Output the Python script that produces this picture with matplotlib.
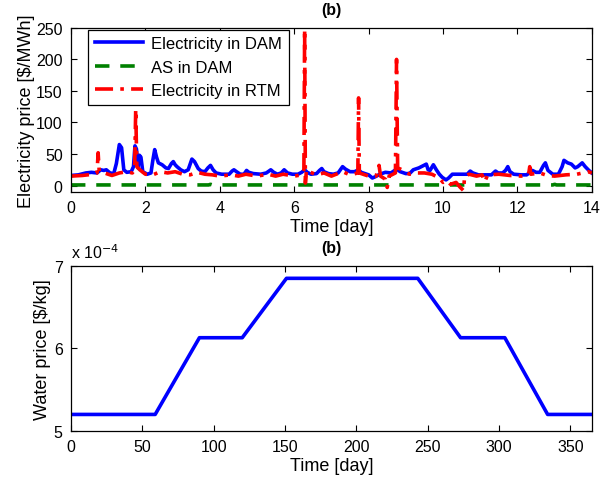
import matplotlib
matplotlib.use("Agg")
import matplotlib.pyplot as plt
from matplotlib.ticker import FuncFormatter

plt.rcParams['font.family'] = ['Liberation Sans', 'DejaVu Sans']

# day-ahead electricity price [$/MWh]
dam_day = [0, 0.2, 0.4, 0.55, 0.7, 0.8, 0.88, 0.95, 1.05, 1.15, 1.22, 1.3, 1.36, 1.42,
           1.5, 1.62, 1.68, 1.72, 1.76, 1.8, 1.84, 1.88, 1.93, 2.05, 2.15, 2.2, 2.25,
           2.3, 2.35, 2.45, 2.55, 2.62, 2.7, 2.75, 2.8, 2.85, 2.95, 3.05, 3.15, 3.25,
           3.32, 3.42, 3.5, 3.6, 3.68, 3.75, 3.82, 3.9, 4.05, 4.25, 4.33, 4.38, 4.45,
           4.55, 4.65, 4.72, 4.78, 4.9, 5.1, 5.25, 5.37, 5.45, 5.55, 5.65, 5.73, 5.82,
           5.95, 6.1, 6.2, 6.28, 6.35, 6.45, 6.6, 6.68, 6.74, 6.8, 6.92, 7.05, 7.18,
           7.3, 7.38, 7.5, 7.62, 7.73, 7.8, 7.9, 8.0, 8.1, 8.18, 8.3, 8.45, 8.6, 8.75,
           8.85, 9.0, 9.1, 9.2, 9.35, 9.55, 9.6, 9.65, 9.74, 9.82, 9.9, 9.98, 10.08,
           10.15, 10.25, 10.5, 10.65, 10.73, 10.8, 10.95, 11.15, 11.3, 11.41, 11.48,
           11.6, 11.68, 11.74, 11.8, 11.9, 12.1, 12.25, 12.33, 12.4, 12.5, 12.6, 12.7,
           12.75, 12.82, 12.95, 13.1, 13.2, 13.25, 13.35, 13.45, 13.55, 13.62, 13.74,
           13.82, 13.92, 14.0]
dam_price = [16, 17, 20, 21, 20, 25, 24, 25, 20, 19, 35, 65, 60, 25,
             21, 22, 30, 63, 58, 28, 48, 45, 22, 18, 20, 40, 57,
             45, 36, 33, 28, 27, 35, 38, 33, 30, 25, 22, 25, 42,
             38, 27, 23, 22, 28, 32, 25, 20, 18, 18, 23, 25, 22,
             18, 18, 24, 21, 19, 18, 20, 25, 21, 18, 20, 25, 20,
             18, 18, 21, 25, 21, 18, 19, 24, 27, 22, 19, 18, 20,
             30, 26, 22, 22, 25, 21, 19, 17, 12, 14, 18, 21, 20, 26,
             22, 19, 19, 25, 28, 34, 25, 24, 33, 25, 18, 13, 9,
             12, 18, 18, 18, 23, 20, 17, 17, 17, 23, 20,
             20, 24, 30, 22, 18, 17, 17, 21, 24, 21, 21, 32,
             36, 24, 18, 18, 30, 40, 36, 34, 28, 30, 36,
             30, 24, 20]

# ancillary service price in DAM
as_day = [0, 3.7, 3.75, 3.8, 12.95, 13.0, 13.05, 14.0]
as_price = [1, 1, 2, 1, 1, 2, 1, 1]

# real-time electricity price
rtm_day = [0, 0.3, 0.6, 0.7, 0.73, 0.76, 0.9, 1.1, 1.3, 1.5, 1.65, 1.71, 1.74, 1.77,
           1.85, 2.0, 2.2, 2.4, 2.6, 2.8, 3.0, 3.2, 3.4, 3.6, 3.8, 4.0, 4.3, 4.5,
           4.7, 5.0, 5.3, 5.5, 5.7, 6.0, 6.2, 6.26, 6.28, 6.3, 6.33, 6.4, 6.6, 6.8,
           7.0, 7.3, 7.5, 7.71, 7.73, 7.75, 8.0, 8.2, 8.28, 8.32, 8.45, 8.5, 8.55,
           8.72, 8.75, 8.78, 8.9, 9.1, 9.3, 9.5, 9.7, 9.9, 10.0, 10.1, 10.2, 10.35,
           10.45, 10.55, 10.58, 10.7, 10.9, 11.05, 11.12, 11.2, 11.5, 11.8, 12.1,
           12.3, 12.33, 12.36, 12.6, 12.8, 13.0, 13.3, 13.6, 13.9, 14.0]
rtm_price = [15, 16, 18, 20, 52, 22, 20, 16, 20, 22, 20, 25, 121, 30,
             25, 18, 17, 22, 20, 22, 18, 17, 21, 18, 17, 15, 17, 15,
             18, 15, 18, 15, 18, 15, 17, 25, 248, 4, 25, 22, 17, 20,
             15, 22, 17, 20, 139, 20, 15, 15, 32, 15, 10, -3, 15,
             20, 200, 28, 25, 18, 20, 20, 18, 12, 5, 8, 2, 5,
             -2, -8, 15, 18, 15, 17, 6, 17, 18, 16, 15,
             18, 30, 18, 20, 16, 15, 17, 18, 22, 20]

# water price over the year [$/kg]
water_day = [0, 59, 90, 120, 151, 243, 273, 304, 334, 365]
water_price = [5.2e-4, 5.2e-4, 6.13e-4, 6.13e-4, 6.85e-4, 6.85e-4, 6.13e-4, 6.13e-4, 5.2e-4, 5.2e-4]


def style_axes(ax):
    ax.tick_params(direction='in', top=True, right=True, length=4, width=0.8,
                   labelsize=11.5, pad=6)
    for sp in ax.spines.values():
        sp.set_linewidth(0.9)


fig = plt.figure(figsize=(6.15, 4.81), dpi=100)
ax1 = fig.add_axes([0.1154, 0.599, 0.847, 0.341])
ax2 = fig.add_axes([0.1154, 0.102, 0.847, 0.343])

ax1.plot(dam_day, dam_price, color='#0000ff', lw=2.6, label='Electricity in DAM')
ax1.plot(as_day, as_price, color='#008000', lw=2.6, dashes=(4, 3), label='AS in DAM')
ax1.plot(rtm_day, rtm_price, color='#ff0000', lw=2.6, dashes=(5, 2, 1, 2),
         label='Electricity in RTM')
ax1.set_xlim(0, 14)
ax1.set_ylim(-10, 250)
ax1.set_xticks(range(0, 15, 2))
ax1.set_yticks(range(0, 251, 50))
ax1.set_xlabel('Time [day]', fontsize=13, labelpad=2)
ax1.set_ylabel(r'Electricity price [\$/MWh]', fontsize=13, labelpad=1)
ax1.set_title('(b)', fontsize=11.5, fontweight='bold', pad=10)
style_axes(ax1)
leg = ax1.legend(loc='upper left', bbox_to_anchor=(0.033, 0.99), borderaxespad=0,
                 fontsize=12, handlelength=2.9, fancybox=False, framealpha=1,
                 edgecolor='black', labelspacing=0.5, borderpad=0.4, handletextpad=0.5)
leg.get_frame().set_linewidth(0.9)

ax2.plot(water_day, water_price, color='#0000ff', lw=2.6)
ax2.set_xlim(0, 365)
ax2.set_ylim(5e-4, 7e-4)
ax2.set_xticks(range(0, 351, 50))
ax2.set_yticks([5e-4, 6e-4, 7e-4])
ax2.yaxis.set_major_formatter(FuncFormatter(lambda v, p: '%d' % round(v * 1e4)))
ax2.set_xlabel('Time [day]', fontsize=13, labelpad=2)
ax2.set_ylabel(r'Water price [\$/kg]', fontsize=13, labelpad=2)
ax2.set_title('(b)', fontsize=11.5, fontweight='bold', pad=10)
ax2.text(0.0, 1.03, r'x 10$^{-4}$', transform=ax2.transAxes, fontsize=11.5,
         ha='left', va='bottom')
style_axes(ax2)

fig.savefig('out.png', dpi=100)
